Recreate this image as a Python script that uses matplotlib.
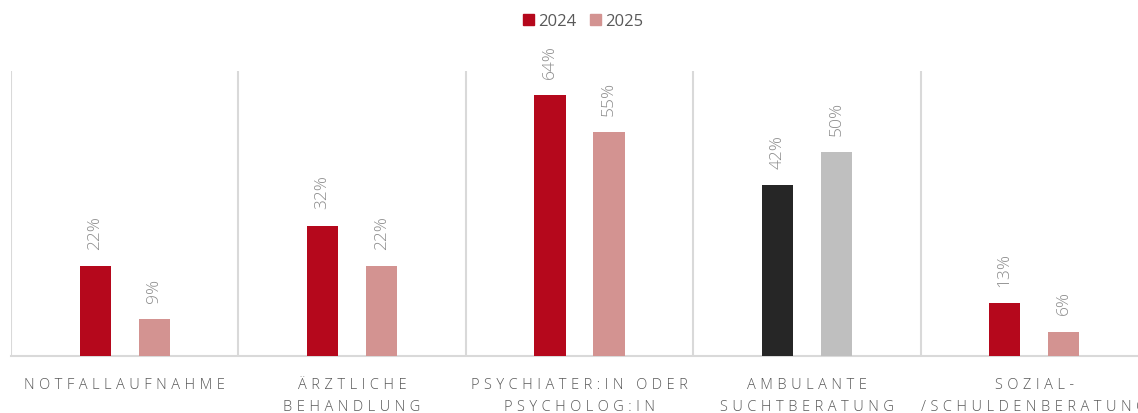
import matplotlib
matplotlib.use("Agg")
import matplotlib.pyplot as plt
from matplotlib.patches import Patch
import numpy as np

categories = ["NOTFALLAUFNAHME", "ÄRZTLICHE\nBEHANDLUNG", "PSYCHIATER:IN ODER\nPSYCHOLOG:IN",
              "AMBULANTE\nSUCHTBERATUNG", "SOZIAL-\n/SCHULDENBERATUNG"]
values_2024 = [22, 32, 64, 42, 13]
values_2025 = [9, 22, 55, 50, 6]
series_labels = ["2024", "2025"]
colors_2024 = ["#B5081C", "#B5081C", "#B5081C", "#262626", "#B5081C"]
colors_2025 = ["#D39391", "#D39391", "#D39391", "#BFBFBF", "#D39391"]

plt.rcParams['font.family'] = ['Open Sans', 'DejaVu Sans']

W, H = 1138, 414
fig = plt.figure(figsize=(W / 100, H / 100), dpi=100)
cat_w = 227.4
ax = fig.add_axes([11 / W, (H - 357) / H, 5 * cat_w / W, (357 - 72) / H])

x = np.arange(len(categories))
bw = 0.137
off = 0.13
b1 = ax.bar(x - off, values_2024, bw, color=colors_2024, zorder=3)
b2 = ax.bar(x + off, values_2025, bw, color=colors_2025, zorder=3)

ax.set_xlim(-0.5, len(categories) - 0.5)
ax.set_ylim(0, 70)

for bars, vals in ((b1, values_2024), (b2, values_2025)):
    for rect, v in zip(bars, vals):
        ax.annotate(f"{v}%", (rect.get_x() + rect.get_width() / 2, rect.get_height()),
                    xytext=(0, 12.5), textcoords="offset points", rotation=90,
                    ha="center", va="bottom", fontsize=12.5, color="#8C8C8C",
                    fontweight="light")

# separators
sep_color = "#D9D9D9"
for b in np.arange(-0.5, len(categories) - 0.4, 1.0):
    ax.axvline(b, color=sep_color, lw=1.5, zorder=1)

for s in ["top", "right", "left"]:
    ax.spines[s].set_visible(False)
ax.spines["bottom"].set_color(sep_color)
ax.spines["bottom"].set_linewidth(1.5)
ax.set_yticks([])
ax.set_xticks(x)

def spaced(s):
    return "\n".join("\u200a\u200a\u200a".join(list(line)) for line in s.split("\n"))

ax.set_xticklabels([spaced(c) for c in categories], fontsize=10.5, color="#595959",
                   linespacing=1.65, fontweight="light")
ax.tick_params(axis="x", length=0, pad=15)

handles = [Patch(color="#B5081C"), Patch(color="#D39391")]
fig.legend(handles, series_labels, loc="center", bbox_to_anchor=(0.5125, 1 - 22 / H),
           ncol=2, frameon=False, fontsize=12, labelcolor="#595959",
           handlelength=0.65, handleheight=0.65, handletextpad=0.25, columnspacing=0.8)

fig.savefig("out.png", dpi=100)
